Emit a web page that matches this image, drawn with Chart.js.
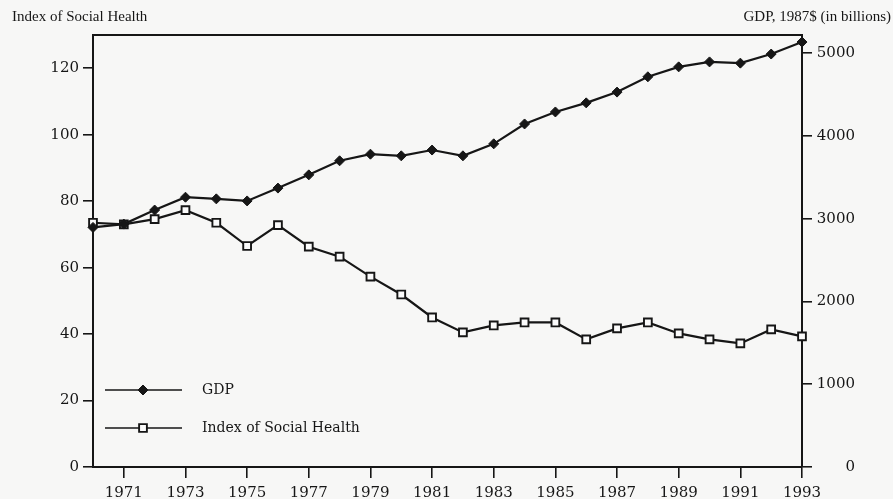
<!DOCTYPE html>
<html>
<head>
<meta charset="utf-8">
<script src="https://cdn.jsdelivr.net/npm/chart.js@4.4.1/dist/chart.umd.min.js"></script>
<style>
  html, body { margin: 0; padding: 0; background: #f7f7f6; }
  canvas { display: block; }
</style>
</head>
<body>
<canvas id="healthChart" width="893" height="499"></canvas>
<script>
// years on the x axis, one point per year
const years = ['1970', '1971', '1972', '1973', '1974', '1975', '1976', '1977', '1978', '1979', '1980', '1981',
               '1982', '1983', '1984', '1985', '1986', '1987', '1988', '1989', '1990', '1991', '1992', '1993'];
const yearLabels = ['1971', '1973', '1975', '1977', '1979', '1981', '1983', '1985', '1987', '1989', '1991', '1993'];

// GDP, 1987$ (in billions) - right axis
const gdp = [2895, 2935, 3105, 3260, 3240, 3215, 3370, 3530, 3700, 3780, 3760, 3830,
             3760, 3905, 4145, 4290, 4400, 4530, 4715, 4835, 4895, 4880, 4990, 5135];

// Index of Social Health - left axis
const socialHealth = [73.5, 73.0, 74.6, 77.3, 73.5, 66.5, 72.8, 66.3, 63.3, 57.3, 51.9, 45.0,
                      40.5, 42.6, 43.5, 43.5, 38.4, 41.7, 43.5, 40.2, 38.4, 37.2, 41.4, 39.3];

const leftTicks = [0, 20, 40, 60, 80, 100, 120];
const rightTicks = [0, 1000, 2000, 3000, 4000, 5000];

const ink = '#161616';
const tickFont = { family: 'DejaVu Serif', size: 15 };

// axis titles, top border and the legend inside the plot
const extras = {
  id: 'extras',
  afterDraw(chart) {
    const ctx = chart.ctx;
    const area = chart.chartArea;
    ctx.save();

    ctx.strokeStyle = ink;
    ctx.lineWidth = 2;
    ctx.beginPath();
    ctx.moveTo(area.left - 1, area.top);
    ctx.lineTo(area.right + 1, area.top);
    ctx.stroke();

    ctx.fillStyle = ink;
    ctx.font = '15px "Liberation Serif"';
    ctx.textBaseline = 'middle';
    ctx.textAlign = 'left';
    ctx.fillText('Index of Social Health', 12, 17);
    ctx.textAlign = 'right';
    ctx.fillText('GDP, 1987$ (in billions)', 891, 17);

    // legend
    const rows = [
      { ds: chart.data.datasets[0], y: area.bottom - 77 },
      { ds: chart.data.datasets[1], y: area.bottom - 39 }
    ];
    ctx.font = '14px "DejaVu Serif"';
    ctx.textAlign = 'left';
    rows.forEach(r => {
      ctx.strokeStyle = ink;
      ctx.lineWidth = 1.6;
      ctx.beginPath();
      ctx.moveTo(area.left + 12, r.y);
      ctx.lineTo(area.left + 89, r.y);
      ctx.stroke();
      ctx.fillStyle = r.ds.pointBackgroundColor;
      ctx.strokeStyle = ink;
      ctx.lineWidth = r.ds.pointBorderWidth;
      Chart.helpers.drawPoint(ctx, {
        pointStyle: r.ds.pointStyle,
        radius: r.ds.pointRadius,
        rotation: 0,
        borderWidth: r.ds.pointBorderWidth
      }, area.left + 50, r.y);
      ctx.fillStyle = ink;
      ctx.fillText(r.ds.label, area.left + 109, r.y);
    });

    ctx.restore();
  }
};

const ctx = document.getElementById('healthChart').getContext('2d');
const chart = new Chart(ctx, {
  type: 'line',
  data: {
    labels: years,
    datasets: [{
      label: 'GDP',
      data: gdp,
      yAxisID: 'yRight',
      borderColor: ink,
      borderWidth: 2.2,
      pointStyle: 'rectRot',
      pointRadius: 5,
      pointBackgroundColor: ink,
      pointBorderColor: ink,
      pointBorderWidth: 1,
      tension: 0,
      clip: false
    }, {
      label: 'Index of Social Health',
      data: socialHealth,
      yAxisID: 'yLeft',
      borderColor: ink,
      borderWidth: 2.2,
      pointStyle: 'rect',
      pointRadius: 5.5,
      pointBackgroundColor: '#fbfbfb',
      pointBorderColor: ink,
      pointBorderWidth: 1.9,
      tension: 0,
      clip: false
    }]
  },
  options: {
    responsive: false,
    animation: false,
    layout: { padding: { top: 35, left: 0, right: 38, bottom: 0 } },
    plugins: {
      legend: { display: false },
      tooltip: { enabled: false }
    },
    scales: {
      x: {
        offset: false,
        afterFit(scale) { scale.height = 32; },
        border: { color: ink, width: 2 },
        grid: {
          drawOnChartArea: false,
          tickLength: 11,
          lineWidth: 1.6,
          color: c => (c.tick && yearLabels.includes(years[c.index])) ? ink : 'rgba(0,0,0,0)'
        },
        ticks: {
          autoSkip: false,
          maxRotation: 0,
          padding: 6,
          color: ink,
          font: tickFont,
          callback: function(value) {
            const y = this.getLabelForValue(value);
            return yearLabels.includes(y) ? y : '';
          }
        }
      },
      yLeft: {
        position: 'left',
        min: 0,
        max: 130,
        afterFit(scale) { scale.width = 93; },
        afterBuildTicks(scale) { scale.ticks = leftTicks.map(v => ({ value: v })); },
        border: { color: ink, width: 2 },
        grid: { drawOnChartArea: false, tickLength: 10, lineWidth: 1.6, color: ink },
        ticks: { padding: 4, color: ink, font: tickFont }
      },
      yRight: {
        position: 'right',
        min: 0,
        max: 5220,
        afterFit(scale) { scale.width = 53; },
        afterBuildTicks(scale) { scale.ticks = rightTicks.map(v => ({ value: v })); },
        border: { color: ink, width: 2 },
        grid: { drawOnChartArea: false, tickLength: 10, lineWidth: 1.6, color: ink },
        ticks: { padding: 5, crossAlign: 'far', color: ink, font: tickFont, callback: v => String(v) }
      }
    }
  },
  plugins: [extras]
});
</script>
</body>
</html>
